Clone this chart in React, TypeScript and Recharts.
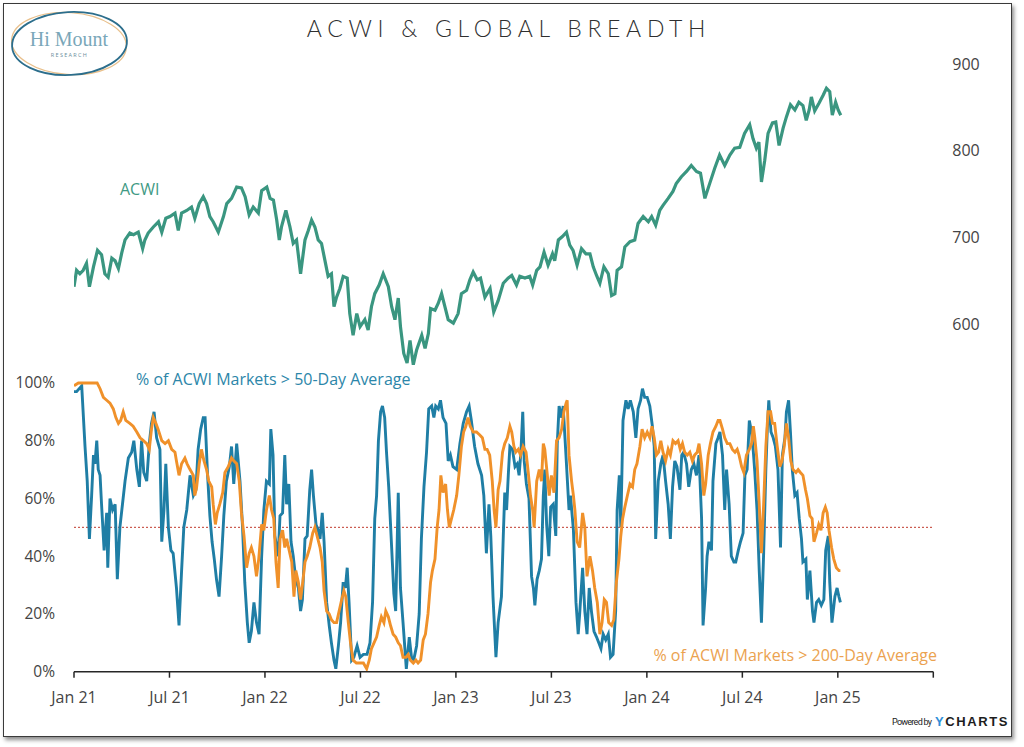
import React from "react";
import { ComposedChart, Line, XAxis, YAxis, ReferenceLine } from "recharts";

// x is weeks since the start of Jan 2021
const xTicks = [0, 26, 52, 78, 104, 130, 156, 182, 208, 234];
const xTickLabels = ["Jan 21", "Jul 21", "Jan 22", "Jul 22", "Jan 23", "Jul 23", "Jan 24", "Jul 24", "Jan 25", ""];
const pctTicks = [0, 20, 40, 60, 80, 100];
const acwiTicks = [600, 700, 800, 900];

// [week, ACWI level]
const acwiPoints: [number, number][] = [
  [0, 643], [0.7, 662], [1.6, 658], [2.5, 662], [3.4, 670], [4.2, 643], [5.3, 666], [6.4, 685], [7.5, 680], [8.4, 658],
  [9.3, 654], [10.3, 676], [11.2, 673], [12.1, 664], [13.0, 682], [13.9, 697], [15.2, 705], [16.2, 703], [17.5, 706], [18.7, 687],
  [19.3, 697], [20.2, 705], [21.6, 712], [23.0, 718], [23.9, 706], [25.0, 722], [26.1, 724], [27.5, 728], [28.4, 708], [29.3, 728],
  [30.7, 731], [32.0, 735], [32.9, 722], [34.1, 739], [35.2, 747], [36.1, 739], [37.0, 724], [37.9, 718], [39.3, 706], [40.7, 724],
  [41.6, 739], [42.9, 745], [44.3, 758], [45.6, 757], [46.6, 747], [47.7, 726], [48.8, 735], [50.2, 728], [51.1, 754], [52.5, 758],
  [53.4, 745], [54.3, 743], [55.2, 720], [55.9, 697], [56.5, 712], [57.7, 731], [58.8, 712], [59.7, 693], [60.6, 697], [61.7, 658],
  [62.9, 697], [63.8, 708], [64.7, 720], [65.6, 712], [66.5, 697], [67.4, 693], [68.3, 674], [69.2, 655], [70.1, 658], [70.8, 620],
  [71.5, 631], [72.4, 641], [73.3, 655], [74.4, 653], [75.1, 612], [76.0, 587], [77.0, 612], [77.9, 597], [79.2, 605], [80.1, 593],
  [81.0, 620], [81.9, 635], [83.1, 645], [84.2, 658], [85.6, 643], [86.5, 620], [87.4, 605], [88.3, 630], [88.9, 597], [89.8, 566],
  [90.7, 555], [91.5, 581], [92.4, 553], [93.3, 570], [94.7, 587], [95.6, 572], [96.5, 589], [97.1, 618], [98.3, 616], [99.2, 624],
  [100.1, 635], [101.0, 620], [101.9, 605], [103.3, 601], [104.6, 612], [105.5, 635], [106.9, 639], [107.8, 651], [108.7, 660], [109.8, 651],
  [110.7, 653], [111.9, 631], [113.3, 641], [114.3, 614], [115.5, 627], [116.9, 647], [118.2, 653], [119.2, 656], [120.5, 645], [121.4, 655],
  [122.8, 653], [124.1, 655], [124.9, 645], [126.0, 662], [126.9, 666], [128.0, 683], [129.1, 668], [130.3, 681], [130.9, 673], [131.9, 697],
  [133.0, 701], [134.1, 706], [135.0, 691], [135.9, 685], [137.0, 668], [138.2, 687], [139.4, 681], [140.5, 681], [141.4, 666], [142.3, 656],
  [143.2, 647], [144.3, 666], [145.5, 658], [146.4, 633], [147.3, 635], [147.9, 662], [149.1, 666], [150.0, 689], [151.4, 695], [152.7, 697],
  [153.6, 716], [155.0, 724], [156.4, 718], [157.3, 724], [158.4, 714], [159.5, 731], [160.4, 737], [161.8, 745], [163.1, 753], [164.0, 762],
  [165.4, 770], [166.8, 776], [168.1, 783], [169.5, 776], [170.6, 774], [171.8, 745], [173.1, 762], [174.5, 780], [175.8, 795], [177.2, 783],
  [178.6, 795], [179.9, 803], [181.3, 804], [182.6, 820], [184.0, 830], [184.9, 814], [185.8, 803], [186.5, 810], [187.2, 764], [188.1, 789],
  [189.0, 820], [190.2, 832], [191.1, 833], [192.0, 806], [193.1, 826], [194.0, 839], [195.1, 853], [196.3, 847], [197.4, 856], [198.5, 852],
  [199.4, 835], [200.2, 847], [200.8, 862], [201.7, 846], [202.9, 855], [204.0, 864], [204.9, 872], [205.8, 868], [206.5, 841], [207.4, 856],
  [208.1, 847], [208.8, 841],
];

// [week, % of ACWI markets above their 50-day average]
const above50Points: [number, number][] = [
  [0, 97], [0.7, 97], [2.1, 99], [3.0, 78], [3.6, 66], [4.2, 46], [4.8, 61], [5.3, 75], [5.7, 72], [6.2, 80],
  [6.6, 70], [7.1, 68], [7.5, 58], [8.2, 42], [8.9, 55], [9.2, 36], [9.8, 60], [10.5, 56], [11.2, 58], [11.8, 32],
  [12.5, 50], [13.2, 58], [13.9, 66], [14.8, 74], [15.7, 76], [16.3, 80], [17.1, 70], [17.8, 64], [18.4, 80], [19.0, 69],
  [19.8, 66], [20.5, 79], [21.1, 86], [21.8, 90], [22.5, 81], [23.4, 77], [23.9, 45], [24.5, 56], [25.0, 72], [25.7, 50],
  [26.4, 42], [27.0, 41], [27.9, 29], [28.6, 16], [29.3, 35], [29.9, 50], [30.7, 56], [31.6, 68], [32.5, 61], [33.2, 63],
  [33.8, 77], [34.5, 84], [35.2, 88], [35.7, 88], [36.3, 70], [37.0, 54], [37.6, 45], [38.2, 39], [38.8, 32], [39.5, 26],
  [40.2, 40], [40.8, 54], [41.5, 66], [42.3, 71], [42.9, 78], [43.5, 65], [44.3, 79], [45.2, 66], [45.9, 50], [46.5, 31],
  [47.2, 17], [47.7, 10], [48.3, 14], [49.0, 24], [49.7, 17], [50.4, 13], [51.1, 40], [51.7, 56], [52.4, 66], [53.2, 65],
  [53.6, 84], [54.2, 75], [54.7, 47], [55.6, 40], [56.1, 54], [56.8, 55], [57.4, 75], [57.9, 58], [58.5, 65], [59.1, 45],
  [59.7, 40], [60.4, 32], [61.1, 29], [61.7, 21], [62.2, 25], [62.9, 46], [63.5, 47], [64.2, 63], [64.7, 70], [65.2, 61],
  [65.9, 51], [66.5, 49], [67.0, 46], [67.6, 55], [68.1, 45], [68.8, 24], [69.5, 16], [70.1, 10], [70.8, 4], [71.3, 1],
  [72.0, 9], [72.6, 17], [73.3, 31], [73.9, 29], [74.4, 36], [74.9, 24], [75.6, 4], [76.2, 5], [77.1, 9], [77.9, 5],
  [78.8, 6], [79.8, 6], [80.6, 10], [81.3, 24], [81.9, 53], [82.4, 61], [82.9, 80], [83.5, 90], [84.0, 92], [84.6, 88],
  [85.1, 76], [85.7, 64], [86.5, 43], [87.1, 27], [87.6, 21], [88.3, 62], [88.9, 29], [89.6, 17], [90.5, 1], [91.3, 12],
  [91.9, 5], [92.5, 4], [93.3, 9], [94.0, 20], [94.6, 46], [95.3, 64], [96.0, 76], [96.6, 91], [97.4, 92], [98.0, 88],
  [98.5, 92], [99.2, 91], [99.8, 94], [100.5, 88], [101.3, 86], [101.9, 73], [102.5, 75], [103.2, 71], [104.2, 70], [105.1, 79],
  [106.0, 86], [106.9, 90], [107.6, 92], [108.2, 87], [109.1, 78], [110.0, 72], [111.0, 68], [111.6, 61], [112.3, 41], [113.0, 58],
  [113.5, 47], [114.1, 26], [114.9, 5], [115.5, 17], [116.4, 26], [116.9, 47], [117.3, 62], [117.8, 56], [118.3, 69], [118.7, 78],
  [119.4, 77], [120.1, 71], [120.7, 72], [121.2, 68], [121.7, 76], [122.2, 90], [122.6, 73], [123.2, 65], [123.9, 60], [124.6, 33],
  [125.1, 29], [125.5, 23], [126.1, 32], [126.7, 35], [127.3, 39], [127.8, 61], [128.2, 70], [128.7, 51], [129.3, 40], [129.8, 57],
  [130.5, 58], [131.2, 47], [131.6, 79], [132.1, 92], [132.8, 88], [133.2, 92], [133.7, 81], [134.1, 72], [134.8, 56], [135.2, 61],
  [136.0, 49], [136.7, 24], [137.3, 13], [137.7, 20], [138.5, 36], [139.1, 21], [139.7, 13], [140.3, 29], [140.9, 21], [141.6, 14],
  [142.3, 12], [142.9, 10], [143.5, 8], [144.1, 13], [144.8, 11], [145.5, 13], [146.1, 5], [146.8, 6], [147.5, 21], [147.9, 56],
  [148.5, 68], [148.9, 50], [149.5, 87], [150.3, 94], [150.9, 91], [151.5, 94], [152.3, 90], [153.0, 81], [153.6, 91], [154.3, 94],
  [154.8, 98], [155.4, 95], [156.1, 95], [156.8, 92], [157.5, 85], [158.0, 78], [158.4, 46], [159.1, 66], [159.8, 72], [160.4, 75],
  [161.1, 66], [161.8, 58], [162.4, 46], [163.0, 64], [163.6, 73], [164.2, 71], [165.0, 63], [165.5, 75], [166.0, 76], [166.8, 72],
  [167.4, 64], [168.1, 70], [168.8, 72], [169.5, 68], [170.2, 75], [170.9, 53], [171.3, 16], [172.0, 29], [172.4, 40], [172.9, 45],
  [173.6, 42], [174.0, 66], [174.8, 79], [175.4, 81], [175.9, 83], [176.6, 75], [177.2, 56], [177.7, 70], [178.4, 58], [179.0, 40],
  [179.7, 38], [180.2, 38], [180.9, 42], [181.5, 45], [182.2, 48], [182.7, 68], [183.3, 70], [183.9, 87], [184.5, 83], [185.0, 76],
  [185.4, 69], [186.0, 56], [186.6, 35], [187.2, 17], [187.8, 41], [188.4, 70], [188.8, 84], [189.2, 94], [189.8, 83], [190.4, 81],
  [191.0, 78], [191.7, 70], [192.4, 43], [192.9, 75], [193.6, 81], [194.0, 90], [194.6, 94], [195.1, 83], [195.6, 70], [196.3, 61],
  [196.9, 62], [197.5, 53], [198.1, 46], [198.5, 38], [199.3, 39], [199.7, 25], [200.4, 35], [201.1, 21], [201.5, 17], [202.2, 24],
  [202.8, 25], [203.5, 23], [204.2, 25], [204.7, 42], [205.4, 47], [205.8, 31], [206.4, 17], [207.2, 26], [207.8, 29], [208.3, 26],
  [208.7, 24],
];

// [week, % of ACWI markets above their 200-day average]
const above200Points: [number, number][] = [
  [0, 99], [1.2, 100], [6.3, 100], [7.1, 98], [8.0, 95], [8.9, 94], [9.8, 93], [10.7, 91], [11.4, 88], [12.1, 86],
  [12.7, 87], [13.4, 90], [14.1, 87], [15.2, 86], [16.1, 85], [17.1, 83], [18.0, 81], [18.9, 80], [19.8, 79], [20.5, 77],
  [21.1, 84], [21.6, 88], [22.3, 86], [22.9, 84], [23.9, 80], [24.8, 79], [25.7, 80], [26.6, 77], [27.5, 76], [27.9, 73],
  [28.6, 68], [29.3, 72], [30.2, 74], [30.8, 72], [31.6, 70], [32.5, 68], [32.9, 61], [33.4, 64], [34.1, 72], [34.7, 77],
  [35.4, 73], [36.1, 70], [36.7, 66], [37.5, 64], [37.9, 58], [38.5, 51], [39.0, 55], [39.7, 58], [40.5, 62], [41.1, 69],
  [42.0, 71], [42.9, 74], [43.5, 73], [44.3, 72], [45.0, 66], [45.6, 55], [46.3, 47], [47.0, 36], [47.7, 41], [48.3, 43],
  [49.0, 40], [49.7, 33], [50.3, 39], [51.1, 51], [51.7, 49], [52.4, 56], [53.2, 61], [53.8, 56], [54.4, 53], [55.0, 38],
  [55.6, 29], [56.1, 46], [56.8, 49], [57.4, 43], [57.9, 46], [58.6, 42], [59.3, 38], [59.9, 26], [60.4, 35], [61.1, 31],
  [61.7, 25], [62.3, 31], [62.9, 38], [63.5, 40], [64.2, 43], [65.0, 48], [65.6, 50], [66.2, 47], [67.0, 43], [67.6, 38],
  [68.1, 28], [68.8, 21], [69.5, 20], [70.1, 18], [70.8, 17], [71.5, 17], [72.2, 21], [72.9, 25], [73.5, 28], [74.0, 26],
  [74.7, 17], [75.3, 10], [76.0, 4], [76.9, 3], [77.9, 3], [78.8, 3], [79.7, 1], [80.4, 4], [81.0, 8], [81.7, 10],
  [82.4, 12], [83.1, 16], [83.7, 19], [84.4, 17], [84.9, 21], [85.6, 19], [86.2, 16], [86.9, 13], [87.6, 12], [88.3, 10],
  [88.9, 9], [89.6, 5], [90.4, 5], [91.0, 6], [91.6, 4], [92.4, 3], [93.1, 4], [93.7, 3], [94.4, 4], [95.1, 11],
  [95.7, 13], [96.4, 20], [97.1, 31], [97.6, 35], [98.3, 39], [98.9, 50], [99.4, 56], [99.9, 68], [100.5, 62], [101.2, 65],
  [101.7, 56], [102.2, 50], [102.8, 53], [103.4, 56], [104.2, 61], [104.8, 68], [105.5, 78], [106.1, 83], [106.7, 85], [107.3, 88],
  [107.9, 85], [108.7, 83], [109.6, 83], [110.5, 82], [111.2, 81], [111.9, 77], [112.5, 77], [113.2, 75], [113.9, 66], [114.4, 56],
  [114.9, 50], [115.5, 63], [116.0, 66], [116.7, 76], [117.3, 79], [118.0, 81], [118.7, 85], [119.2, 83], [119.8, 78], [120.3, 76],
  [121.0, 77], [121.6, 75], [122.3, 78], [123.1, 76], [123.7, 69], [124.3, 61], [124.9, 56], [125.3, 50], [126.0, 66], [126.7, 70],
  [127.3, 66], [127.8, 79], [128.2, 77], [128.9, 68], [129.4, 61], [130.0, 68], [130.7, 62], [131.4, 80], [132.1, 81], [132.8, 84],
  [133.4, 90], [134.0, 93], [134.3, 94], [134.8, 75], [135.5, 66], [136.0, 61], [136.4, 56], [137.0, 45], [137.7, 43], [138.5, 55],
  [139.1, 50], [139.7, 33], [140.5, 40], [141.2, 35], [141.8, 29], [142.5, 24], [143.2, 13], [143.8, 17], [144.4, 25], [145.0, 24],
  [145.6, 17], [146.4, 16], [147.0, 18], [147.7, 31], [148.4, 39], [148.9, 47], [149.4, 53], [150.0, 57], [150.7, 61], [151.4, 65],
  [152.1, 64], [152.7, 70], [153.3, 72], [154.1, 78], [154.7, 84], [155.4, 81], [156.1, 83], [156.8, 81], [157.4, 85], [158.0, 81],
  [158.6, 75], [159.2, 76], [159.8, 80], [160.4, 76], [161.1, 73], [161.8, 77], [162.4, 75], [163.1, 80], [163.8, 79], [164.5, 80],
  [165.1, 77], [165.7, 79], [166.3, 76], [167.0, 75], [167.7, 76], [168.4, 73], [169.0, 75], [169.7, 76], [170.2, 79], [170.9, 72],
  [171.5, 61], [172.0, 65], [172.7, 75], [173.3, 79], [174.0, 83], [174.8, 85], [175.4, 87], [175.9, 87], [176.6, 84], [177.2, 81],
  [177.9, 79], [178.6, 79], [179.3, 77], [180.0, 76], [180.6, 77], [181.1, 75], [181.8, 71], [182.4, 69], [183.1, 75], [183.9, 77],
  [184.5, 79], [185.0, 85], [185.4, 81], [186.0, 73], [186.6, 58], [187.2, 41], [187.8, 58], [188.4, 78], [189.0, 90], [189.7, 90],
  [190.2, 86], [190.8, 86], [191.5, 78], [192.2, 71], [192.8, 73], [193.4, 78], [194.0, 86], [194.6, 81], [195.2, 73], [195.8, 70],
  [196.6, 69], [197.2, 70], [197.8, 69], [198.5, 68], [199.2, 63], [199.7, 60], [200.4, 54], [201.0, 53], [201.5, 45], [202.2, 48],
  [202.8, 51], [203.4, 49], [204.0, 55], [204.6, 57], [205.1, 55], [205.6, 49], [206.3, 43], [206.9, 39], [207.6, 36], [208.3, 35],
  [208.7, 35],
];

const toRows = (pts: [number, number][]) => pts.map(([week, value]) => ({ week, value }));

const FONT = "'Open Sans', 'Noto Sans', sans-serif";

const App = () => {
  const acwiData = toRows(acwiPoints);
  const above50Data = toRows(above50Points);
  const above200Data = toRows(above200Points);

  return (
    <div style={{ position: "absolute", left: 0, top: 0, width: 1024, height: 747, background: "#fff" }}>
      {/* frame */}
      <div
        style={{
          position: "absolute",
          left: 3,
          top: 3,
          width: 1009,
          height: 734,
          boxSizing: "border-box",
          border: "1.5px solid #3a3a3a",
          boxShadow: "2px 3px 4px rgba(0,0,0,0.45)",
        }}
      />

      <div style={{ position: "absolute", left: 0, top: 0 }}>
        <ComposedChart width={1024} height={747} margin={{ top: 50, right: 30.7, bottom: 45.3, left: 14 }}>
          <XAxis
            type="number"
            dataKey="week"
            domain={[0, 234]}
            ticks={xTicks}
            interval={0}
            height={30}
            allowDataOverflow
            tickFormatter={(v: number) => xTickLabels[xTicks.indexOf(v)] ?? ""}
            axisLine={{ stroke: "#262626", strokeWidth: 1.5 }}
            tickLine={{ stroke: "#262626", strokeWidth: 1.5 }}
            tickSize={6}
            tickMargin={14}
            tick={{ fontSize: 16, fill: "#444", fontFamily: FONT }}
          />
          <YAxis
            yAxisId="pct"
            orientation="left"
            width={60}
            domain={[0, 215.3]}
            ticks={pctTicks}
            interval={0}
            allowDataOverflow
            axisLine={false}
            tickLine={false}
            tickSize={0}
            tickMargin={19}
            tickFormatter={(v: number) => `${v}%`}
            tick={{ fontSize: 15.5, fill: "#444", fontFamily: FONT }}
          />
          <YAxis
            yAxisId="acwi"
            orientation="right"
            width={60}
            domain={[198.8, 916.2]}
            ticks={acwiTicks}
            interval={0}
            allowDataOverflow
            axisLine={false}
            tickLine={false}
            tickSize={0}
            tickMargin={19}
            tick={{ fontSize: 16, fill: "#444", fontFamily: FONT }}
          />

          <ReferenceLine yAxisId="pct" y={50} stroke="#c0392b" strokeWidth={1} strokeDasharray="2 2" />

          <Line
            yAxisId="acwi"
            data={acwiData}
            dataKey="value"
            type="linear"
            stroke="#3a9680"
            strokeWidth={3.2}
            dot={false}
            activeDot={false}
            isAnimationActive={false}
          />
          <Line
            yAxisId="pct"
            data={above50Data}
            dataKey="value"
            type="linear"
            stroke="#1f7ea5"
            strokeWidth={2.9}
            dot={false}
            activeDot={false}
            isAnimationActive={false}
          />
          <Line
            yAxisId="pct"
            data={above200Data}
            dataKey="value"
            type="linear"
            stroke="#f0912a"
            strokeWidth={2.9}
            dot={false}
            activeDot={false}
            isAnimationActive={false}
          />
        </ComposedChart>
      </div>

      {/* titles, labels, logo */}
      <svg width={1024} height={747} style={{ position: "absolute", left: 0, top: 0, pointerEvents: "none" }}>
        <text
          x={509}
          y={36.5}
          textAnchor="middle"
          fontFamily="Lato, 'Open Sans', sans-serif"
          fontWeight={300}
          fontSize={23}
          letterSpacing={5.7}
          fill="#2f2f2f"
        >
          ACWI &amp; GLOBAL BREADTH
        </text>

        <text x={120} y={194.5} fontFamily={FONT} fontSize={16} fill="#3f9a84">
          ACWI
        </text>
        <text x={136} y={384.5} fontFamily={FONT} fontSize={16} fill="#2c86a9">
          % of ACWI Markets &gt; 50-Day Average
        </text>
        <text x={937} y={660.5} textAnchor="end" fontFamily={FONT} fontSize={16} fill="#eba24f">
          % of ACWI Markets &gt; 200-Day Average
        </text>

        {/* logo */}
        <g>
          <ellipse cx={69} cy={43.5} rx={57.5} ry={31} fill="none" stroke="#e9c08c" strokeWidth={1.3} transform="rotate(4 69 43.5)" />
          <ellipse cx={69.5} cy={43.5} rx={57.5} ry={31.5} fill="none" stroke="#2c6e8c" strokeWidth={1.8} transform="rotate(-3 69.5 43.5)" />
          <text x={69} y={45.5} textAnchor="middle" fontFamily="'Liberation Serif', 'DejaVu Serif', serif" fontSize={20} fill="#7aa7b9">
            Hi Mount
          </text>
          <text x={69.5} y={56.5} textAnchor="middle" fontFamily={FONT} fontSize={5.5} letterSpacing={1.3} fill="#6c8e9c">
            RESEARCH
          </text>
        </g>

        {/* footer */}
        <text x={892} y={725} fontFamily="'Liberation Sans Narrow', 'Roboto', sans-serif" fontSize={9} fill="#222" textLength={40}>
          Powered by
        </text>
        <text x={935} y={726} fontFamily="'Liberation Sans', Arial, sans-serif" fontWeight={700} fontSize={13} letterSpacing={1.6} fill="#1d1d1d">
          <tspan fill="#2f8fd8">Y</tspan>CHARTS
        </text>
      </svg>
    </div>
  );
};

export default App;
